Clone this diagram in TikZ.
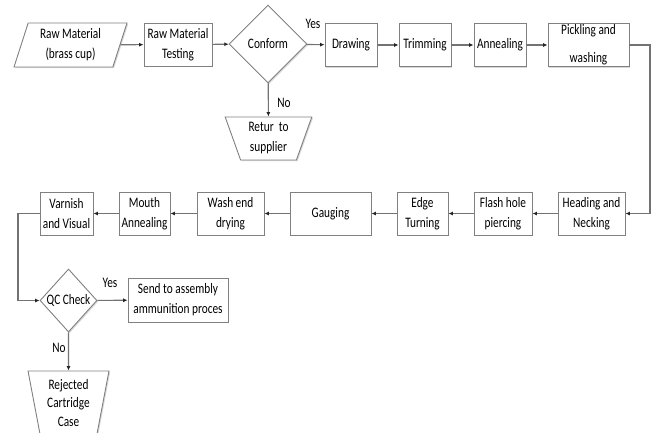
\documentclass[tikz,border=0pt]{standalone}
\usepackage{fontspec}
\setmainfont{Carlito}[FakeStretch=0.78]
\usetikzlibrary{shapes.geometric,arrows.meta,shadows}

\begin{document}
\begin{tikzpicture}[
  x=1pt, y=-1pt,
  font=\fontsize{14.5}{20}\selectfont,
  box/.style={draw=black!50, line width=0.9pt, fill=white, align=center, inner sep=1pt,
              minimum height=43pt,
              drop shadow={shadow xshift=1.2pt, shadow yshift=-1.2pt, fill=black!30}},
  io/.style={box, trapezium, trapezium stretches=true,
             trapezium left angle=73, trapezium right angle=107},
  term/.style={box, trapezium, trapezium stretches=true, shape border rotate=180},
  dec/.style={box, diamond, inner sep=0pt, aspect=0.9},
  flow/.style={draw, black!55, line width=1.1pt, -{Latex[length=4.5pt, width=4pt, color=black!85]}},
  lbl/.style={inner sep=1pt},
]
\useasboundingbox (0,0) rectangle (656,432);
\clip (0,0) rectangle (656,432);

% ---------------- top row ----------------
\node[io, minimum width=113pt, minimum height=44pt] (raw)  at ( 70.5, 45) {Raw Material\\(brass cup)};
\node[box, minimum width=68pt]  (test) at (178, 44.5) {Raw Material\\Testing};
\node[dec, minimum width=78pt, minimum height=78pt] (conf) at (268, 44) {Conform};
\node[box, minimum width=52pt]  (draw) at (351, 45) {Drawing};
\node[box, minimum width=52pt]  (trim) at (425, 45) {Trimming};
\node[box, minimum width=52pt]  (anne) at (500, 45) {Annealing};
\node[box, minimum width=81pt]  (pick) at (588.5, 45) {Pickling and\\[8pt]washing};

\node[term, minimum width=87pt, trapezium left angle=71, trapezium right angle=71] (ret)
  at (268.5, 138.5) {Retur\ \ to\\supplier};

\draw[flow] (raw)  -- (test);
\draw[flow] (test) -- (conf);
\draw[flow] (conf) -- (draw);
\node[lbl] at (313, 24) {Yes};
\draw[flow] (draw) -- (trim);
\draw[flow] (trim) -- (anne);
\draw[flow] (anne) -- (pick);
\draw[flow] (conf) -- (ret);
\node[lbl] at (284, 103) {No};

% ---------------- second row, right to left ----------------
\node[box, minimum width=67pt] (head) at (591.5, 213.5) {Heading and\\Necking};
\node[box, minimum width=58pt] (flas) at (503, 213.5)   {Flash hole\\piercing};
\node[box, minimum width=51pt] (edge) at (422.5, 213.5) {Edge\\Turning};
\node[box, minimum width=81pt] (gaug) at (330.5, 213.5) {Gauging};
\node[box, minimum width=67pt] (wash) at (230.5, 213.5) {Wash end\\drying};
\node[box, minimum width=51pt] (mout) at (144.5, 213.5) {Mouth\\Annealing};
\node[box, minimum width=53pt] (varn) at (66.5, 213.5)  {Varnish\\and Visual};

\coordinate (turn) at (650, 45);
\draw[flow] (pick.east) -- (turn) |- (head.east);
\draw[flow] (head) -- (flas);
\draw[flow] (flas) -- (edge);
\draw[flow] (edge) -- (gaug);
\draw[flow] (gaug) -- (wash);
\draw[flow] (wash) -- (mout);
\draw[flow] (mout) -- (varn);

% ---------------- final check ----------------
\node[dec, minimum width=57pt, minimum height=63pt] (qc) at (68.5, 300.5) {QC Check};
\node[box, minimum width=100pt, minimum height=44pt] (send) at (178, 300) {Send to assembly\\ammunition proces};
\node[term, minimum width=81pt, minimum height=64pt, trapezium left angle=79, trapezium right angle=79,
      font=\fontsize{14.5}{18.5}\selectfont] (rej)
  at (68.5, 403) {Rejected\\Cartridge\\Case};

\coordinate (bend) at (18, 213.5);
\draw[flow] (varn.west) -- (bend) |- (qc.west);
\draw[flow] (qc) -- (send);
\node[lbl] at (110, 283) {Yes};
\draw[flow] (qc) -- (rej);
\node[lbl] at (59, 348) {No};

\end{tikzpicture}
\end{document}
